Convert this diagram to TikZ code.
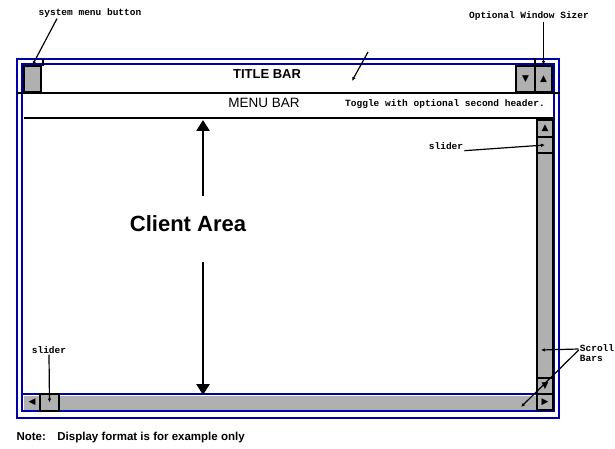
\documentclass[tikz,border=0pt]{standalone}
\usepackage{fontspec}
\setmainfont{Liberation Sans}
\newfontfamily\monofont{Liberation Mono}
\newfontfamily\symfont{DejaVu Sans}
\usetikzlibrary{arrows.meta}
\definecolor{winblue}{RGB}{0,0,170}
\definecolor{bargray}{RGB}{176,176,176}

\begin{document}
\begin{tikzpicture}[x=1pt,y=-1pt,
    marco/.style={draw=winblue,line width=2.6pt},
    boton/.style={draw,line width=2pt,fill=bargray,inner sep=0pt,font=\symfont\fontsize{9}{9}\selectfont},
    nota/.style={font=\monofont\bfseries\fontsize{9.5}{10}\selectfont,inner sep=1pt},
    flecha/.style={-{Latex[length=4pt,width=3.5pt]},line width=1.2pt}]
    \useasboundingbox (0,0) rectangle (615,449);

    % Marcos
    \draw[marco] (17,59) rectangle (559,418);
    \draw[marco] (22,64) rectangle (554,411);
    \draw[marco] (22,394) -- (554,394);

    % Barra de titulo y menu
    \draw[line width=2.6pt] (17,93) -- (560,93);
    \draw[line width=2.6pt] (24,118) -- (554,118);
    \draw[line width=2pt] (43,59) -- (43,66);
    \draw[line width=2pt] (535,58) -- (535,66);
    \node[boton,minimum width=17pt,minimum height=26pt] (sysbox) at (32.5,79) {};
    \node[boton,minimum width=19pt,minimum height=26pt] (minbox) at (525.5,79) {▼};
    \node[boton,minimum width=17pt,minimum height=26pt] (maxbox) at (543.5,79) {▲};
    \node[font=\bfseries\fontsize{13}{14}\selectfont] (titulo) at (267,74) {TITLE BAR};
    \node[font=\fontsize{13.5}{14}\selectfont] (menu) at (264,103) {MENU BAR};
    \node[nota] (toggle) at (445,104) {Toggle with optional second header.};

    % Barras de desplazamiento
    \begin{scope}[every node/.append style={line width=1.2pt,minimum width=16pt}]
        \node[boton,minimum height=274pt] (vbar) at (545,257) {};
        \node[boton,minimum height=17pt] (vup) at (545,128.5) {▲};
        \node[boton,minimum height=16pt] (vslider) at (545,145) {};
        \node[boton,minimum height=16pt] (vdown) at (545,386) {▼};
        \node[fill=bargray,minimum width=529pt,minimum height=14pt,inner sep=0pt] (hbar) at (288.5,402.5) {};
        \node[fill=bargray,minimum height=14pt,inner sep=0pt,font=\symfont\fontsize{9}{9}\selectfont] (hleft) at (32,402.5) {◀};
        \node[boton,line width=2pt,minimum width=19pt,minimum height=17pt] (hslider) at (49.5,402.5) {};
        \node[boton,minimum height=16pt] (hright) at (545,402) {▶};
    \end{scope}

    % Area cliente
    \node[font=\bfseries\fontsize{22}{24}\selectfont] (cliente) at (188,224) {Client Area};
    \coordinate (arribaA) at (203,196);
    \coordinate (arribaB) at (203,120);
    \coordinate (abajoA) at (203,262);
    \coordinate (abajoB) at (203,395);
    \begin{scope}[line width=2.6pt,-{Triangle[length=11pt,width=13pt]}]
        \draw (arribaA) -- (arribaB);
        \draw (abajoA) -- (abajoB);
    \end{scope}

    % Rotulos
    \node[nota] (sysmenu) at (90,13) {system menu button};
    \node[nota] (sizer) at (529,16) {Optional Window Sizer};
    \node[nota] (vslab) at (446,146) {slider};
    \node[nota] (hslab) at (49,350) {slider};
    \node[nota,align=left] (scroll) at (597,353) {Scroll\\Bars};
    \node[font=\bfseries\fontsize{11.5}{12}\selectfont,anchor=west] (aviso) at (13,438) {Note:\quad Display format is for example only};
    \coordinate (tituloA) at (368,52);
    \coordinate (tituloB) at (352,81);
    \coordinate (vpunto) at (541,350);
    \coordinate (hpunto) at (521,407);

    \draw[flecha] ([xshift=-33pt]sysmenu.south) -- (sysbox.north);
    \draw[flecha] ([xshift=14.5pt]sizer.south) -- (maxbox.north);
    \draw[flecha] (tituloA) -- (tituloB);
    \draw[flecha] (vslab.south east) -- (vslider.center);
    \draw[flecha] (hslab.south) -- (hslider.center);
    \draw[flecha] ([yshift=4pt]scroll.west) -- (vpunto);
    \draw[flecha] ([yshift=3pt]scroll.west) -- (hpunto);
\end{tikzpicture}
\end{document}
